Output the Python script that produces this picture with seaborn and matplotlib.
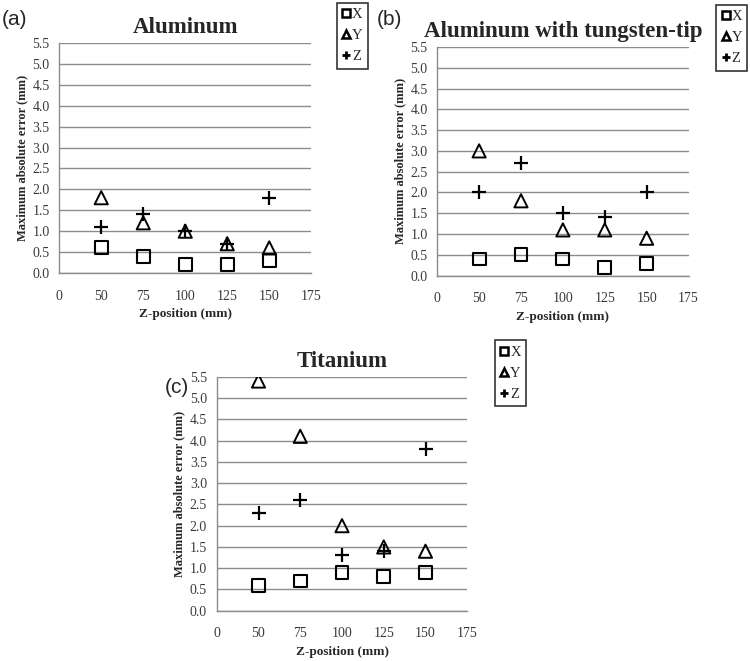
import numpy as np
import pandas as pd
import matplotlib

matplotlib.use("Agg")
import matplotlib.pyplot as plt
from matplotlib.lines import Line2D
import seaborn as sns

# data
z_pos = [50, 75, 100, 125, 150]

alu_x = [0.6, 0.4, 0.2, 0.2, 0.3]
alu_y = [1.8, 1.2, 1.0, 0.7, 0.6]
alu_z = [1.1, 1.4, 1.0, 0.7, 1.8]

tung_x = [0.4, 0.5, 0.4, 0.2, 0.3]
tung_y = [3.0, 1.8, 1.1, 1.1, 0.9]
tung_z = [2.0, 2.7, 1.5, 1.4, 2.0]

ti_x = [0.6, 0.7, 0.9, 0.8, 0.9]
ti_y = [5.4, 4.1, 2.0, 1.5, 1.4]
ti_z = [2.3, 2.6, 1.3, 1.4, 3.8]

titles = ["Aluminum", "Aluminum with tungsten-tip", "Titanium"]
panel_tags = ["(a)", "(b)", "(c)"]
series_names = ["X", "Y", "Z"]
# the x axis is an evenly spaced category axis (Excel style)
x_ticks = [0, 50, 75, 100, 125, 150, 175]
y_ticks = np.arange(0, 5.51, 0.5)

sns.set_theme(style="white")
plt.rcParams["font.family"] = ["Liberation Serif", "DejaVu Serif"]

fig = plt.figure(figsize=(7.5, 6.61), dpi=100)
axes_rects = [
    [0.079, 0.587, 0.336, 0.348],
    [0.583, 0.583, 0.335, 0.346],
    [0.289, 0.076, 0.334, 0.354],
]
tag_pos = [(0.002, 0.962), (0.503, 0.962), (0.219, 0.405)]
legend_anchor = [(0.449, 0.996), (0.955, 0.993), (0.66, 0.485)]

panels = [
    (alu_x, alu_y, alu_z),
    (tung_x, tung_y, tung_z),
    (ti_x, ti_y, ti_z),
]

for i, (xs, ys, zs) in enumerate(panels):
    ax = fig.add_axes(axes_rects[i])
    df = pd.DataFrame({"z": z_pos, "X": xs, "Y": ys, "Z": zs})
    df["pos"] = [x_ticks.index(v) for v in df["z"]]

    sns.scatterplot(data=df, x="pos", y="X", marker="s", s=85,
                    facecolors="none", edgecolor="black", linewidth=1.5,
                    ax=ax, zorder=3)
    sns.scatterplot(data=df, x="pos", y="Y", marker="^", s=90,
                    facecolors="none", edgecolor="black", linewidth=1.4,
                    ax=ax, zorder=3)
    sns.scatterplot(data=df, x="pos", y="Z", marker="+", s=100,
                    color="black", linewidth=1.6, ax=ax, zorder=3)

    ax.set_xlim(0, len(x_ticks) - 1)
    ax.set_ylim(0, 5.5)
    ax.set_xticks(range(len(x_ticks)))
    ax.set_xticklabels([str(v) for v in x_ticks])
    ax.set_yticks(y_ticks)
    ax.set_yticklabels([f"{v:.1f}" for v in y_ticks])
    ax.yaxis.grid(True, color="#8c8c8c", linewidth=1.0)
    ax.xaxis.grid(False)
    ax.set_axisbelow(True)
    for side in ["top", "right"]:
        ax.spines[side].set_visible(False)
    for side in ["left", "bottom"]:
        ax.spines[side].set_color("#8c8c8c")
        ax.spines[side].set_linewidth(1.0)
    ax.tick_params(axis="both", which="both", direction="out", length=3,
                   color="#8c8c8c", labelsize=10, labelcolor="#3a3a3a")
    ax.tick_params(axis="x", pad=9)
    ax.tick_params(axis="y", pad=4)
    ax.set_xlabel("Z-position (mm)", fontsize=9.5, fontweight="bold")
    ax.set_ylabel("Maximum absolute error (mm)", fontsize=9, fontweight="bold",
                  labelpad=3)
    ax.set_title(titles[i], fontsize=16.5, fontweight="bold", pad=7)

    handles = [
        Line2D([], [], marker="s", linestyle="none", markerfacecolor="none",
               markeredgecolor="black", markersize=5.5, markeredgewidth=1.8),
        Line2D([], [], marker="^", linestyle="none", markerfacecolor="none",
               markeredgecolor="black", markersize=5.5, markeredgewidth=1.8),
        Line2D([], [], marker="+", linestyle="none", color="black",
               markersize=6, markeredgewidth=2.0),
    ]
    leg = fig.legend(handles, series_names, loc="upper left",
                     bbox_to_anchor=legend_anchor[i], frameon=True,
                     fancybox=False, edgecolor="black", fontsize=10.5,
                     handlelength=0.6, handletextpad=0.1, borderpad=0.35,
                     labelspacing=0.55, borderaxespad=0)
    leg.get_frame().set_linewidth(1.2)

    fig.text(tag_pos[i][0], tag_pos[i][1], panel_tags[i], fontsize=15,
             family=["Liberation Sans", "DejaVu Sans"])

fig.savefig("out.png", dpi=100)
